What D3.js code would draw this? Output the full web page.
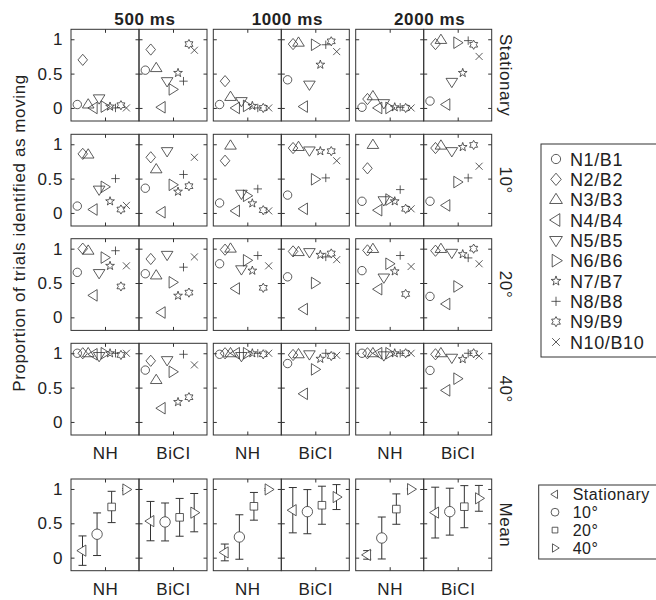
<!DOCTYPE html>
<html>
<head>
<meta charset="utf-8">
<script src="https://cdn.jsdelivr.net/npm/d3@7"></script>
<style>
body { margin: 0; background: #fff; }
svg text { font-family: "Liberation Sans", Arial, sans-serif; fill: #222; letter-spacing: 0.6px; }
</style>
</head>
<body>
<script>
'use strict'

const durations = ['500 ms', '1000 ms', '2000 ms']
const groups = ['NH', 'BiCI']
const conditions = ['Stationary', '10°', '20°', '40°']
const subjects = ['N1/B1', 'N2/B2', 'N3/B3', 'N4/B4', 'N5/B5', 'N6/B6', 'N7/B7', 'N8/B8', 'N9/B9', 'N10/B10']
const yTicks = [0, 0.5, 1]

// one row per condition (Stationary, 10, 20, 40), one value per subject
const nh500 = [
  [0.05, 0.70, 0.05, 0.00, 0.14, 0.02, 0.02, 0.00, 0.04, 0.00],
  [0.10, 0.86, 0.85, 0.05, 0.34, 0.38, 0.17, 0.50, 0.05, 0.11],
  [0.655, 1.00, 0.97, 0.32, 0.645, 0.87, 0.75, 0.97, 0.45, 0.75],
  [1.00, 1.00, 1.00, 0.985, 0.96, 1.00, 1.00, 1.00, 0.975, 1.00]
]
const bici500 = [
  [0.55, 0.85, 0.58, 0.01, 0.39, 0.27, 0.51, 0.39, 0.93, 0.84],
  [0.36, 0.81, 0.635, 0.01, 0.90, 0.41, 0.31, 0.56, 0.39, 0.81],
  [0.635, 0.85, 0.61, 0.07, 0.91, 0.51, 0.315, 0.73, 0.36, 0.88],
  [0.755, 0.89, 0.61, 0.20, 0.90, 0.73, 0.29, 0.985, 0.36, 0.83]
]
const nh1000 = [
  [0.05, 0.39, 0.16, 0.00, 0.10, 0.03, 0.03, 0.00, 0.00, 0.00],
  [0.145, 0.76, 0.98, 0.03, 0.28, 0.25, 0.14, 0.35, 0.04, 0.03],
  [0.78, 0.985, 1.00, 0.42, 0.70, 0.83, 0.68, 0.90, 0.43, 0.75],
  [0.985, 1.00, 1.00, 1.00, 0.96, 1.00, 1.00, 1.00, 0.985, 1.00]
]
const bici1000 = [
  [0.41, 0.93, 0.95, 0.02, 0.34, 0.92, 0.63, 0.92, 0.97, 0.82],
  [0.26, 0.945, 0.96, 0.06, 0.91, 0.49, 0.90, 0.51, 0.90, 0.76],
  [0.59, 0.96, 0.95, 0.12, 0.95, 0.50, 0.91, 0.88, 0.93, 0.84],
  [0.85, 0.975, 0.985, 0.41, 0.985, 0.765, 0.92, 1.00, 0.96, 0.97]
]
const nh2000 = [
  [0.01, 0.13, 0.17, 0.00, 0.07, 0.00, 0.01, 0.01, 0.00, 0.00],
  [0.17, 0.65, 0.99, 0.04, 0.185, 0.195, 0.17, 0.34, 0.06, 0.06],
  [0.68, 0.975, 0.995, 0.41, 0.58, 0.78, 0.67, 0.90, 0.34, 0.74],
  [1.00, 1.00, 1.00, 1.00, 0.97, 1.00, 1.00, 1.00, 1.00, 1.00]
]
const bici2000 = [
  [0.10, 0.93, 0.99, 0.05, 0.38, 0.95, 0.51, 0.98, 0.92, 0.75],
  [0.17, 0.945, 0.98, 0.11, 0.90, 0.45, 0.96, 0.51, 0.99, 0.68],
  [0.305, 0.97, 0.995, 0.195, 0.94, 0.45, 0.92, 0.865, 1.00, 0.78],
  [0.75, 0.985, 1.00, 0.46, 0.935, 0.63, 0.915, 1.00, 1.00, 0.96]
]

const table = [
  [nh500, bici500],
  [nh1000, bici1000],
  [nh2000, bici2000]
]

const m = {
  width: 656,
  height: 600,
  panelW: 68,
  panelH: 91.7,
  groupX: [71, 213.3, 355.7],
  rowTop: [29.3, 134.3, 238.7, 343.3],
  meanTop: 479,
  tick: 3.5
}
const ink = '#333'

// marker shapes, size = half extent in px
const shapes = {
  circle: { draw(c, r) { c.moveTo(r, 0); c.arc(0, 0, r, 0, 2 * Math.PI) } },
  diamond: { draw(c, r) { c.moveTo(0, -r); c.lineTo(r * 0.85, 0); c.lineTo(0, r); c.lineTo(-r * 0.85, 0); c.closePath() } },
  up: { draw(c, r) { c.moveTo(0, -r); c.lineTo(r, 0.6 * r); c.lineTo(-r, 0.6 * r); c.closePath() } },
  down: { draw(c, r) { c.moveTo(0, r); c.lineTo(r, -0.6 * r); c.lineTo(-r, -0.6 * r); c.closePath() } },
  left: { draw(c, r) { c.moveTo(-r, 0); c.lineTo(0.6 * r, -r); c.lineTo(0.6 * r, r); c.closePath() } },
  right: { draw(c, r) { c.moveTo(r, 0); c.lineTo(-0.6 * r, -r); c.lineTo(-0.6 * r, r); c.closePath() } },
  star5: { draw(c, r) { starPath(c, 5, r, r * 0.4) } },
  plus: { draw(c, r) { c.moveTo(-r, 0); c.lineTo(r, 0); c.moveTo(0, -r); c.lineTo(0, r) } },
  star6: { draw(c, r) { starPath(c, 6, r, r * 0.58) } },
  times: { draw(c, r) { c.moveTo(-r, -r); c.lineTo(r, r); c.moveTo(-r, r); c.lineTo(r, -r) } },
  square: { draw(c, r) { c.rect(-r, -r, 2 * r, 2 * r) } }
}

function starPath(c, n, ro, ri) {
  for (let k = 0; k < 2 * n; k++) {
    const a = -Math.PI / 2 + k * Math.PI / n
    const rr = k % 2 === 0 ? ro : ri
    if (k === 0) c.moveTo(rr * Math.cos(a), rr * Math.sin(a))
    else c.lineTo(rr * Math.cos(a), rr * Math.sin(a))
  }
  c.closePath()
}

const subjShape = ['circle', 'diamond', 'up', 'left', 'down', 'right', 'star5', 'plus', 'star6', 'times']
const subjSize = [4.2, 5.6, 5.8, 5.8, 5.8, 5.8, 4.6, 4.2, 4.6, 3.5]
const condShape = ['left', 'circle', 'square', 'right']
const condSize = [5.6, 5.2, 3.8, 5.6]

const sym = d3.symbol()
const symD = (type, r) => sym.type(shapes[type]).size(r)()

const svg = d3.select('body')
  .append('svg')
  .attr('width', m.width)
  .attr('height', m.height)

svg.append('rect').attr('width', m.width).attr('height', m.height).attr('fill', '#fff')

function yScaleFor(top) {
  return d3.scaleLinear()
    .domain([-0.19, 1.145])
    .range([top + m.panelH, top])
}

function drawFrame(g, x0, top, yS, withYLabels, withXLabel, label) {
  const x1 = x0 + m.panelW
  const xc = x0 + m.panelW / 2
  g.append('rect')
    .attr('x', x0).attr('y', top)
    .attr('width', m.panelW).attr('height', m.panelH)
    .attr('fill', 'none').attr('stroke', ink).attr('stroke-width', 1)

  const left = g.append('g').attr('transform', 'translate(' + x0 + ',0)')
    .call(d3.axisLeft(yS).tickValues(yTicks).tickSizeInner(-m.tick).tickSizeOuter(0)
      .tickPadding(8).tickFormat(withYLabels ? d3.format('') : ''))
  const right = g.append('g').attr('transform', 'translate(' + x1 + ',0)')
    .call(d3.axisRight(yS).tickValues(yTicks).tickSizeInner(-m.tick).tickSizeOuter(0).tickFormat(''))
  const xs = d3.scalePoint().domain([label]).range([xc, xc])
  const topAx = g.append('g').attr('transform', 'translate(0,' + top + ')')
    .call(d3.axisTop(xs).tickSizeInner(-m.tick).tickSizeOuter(0).tickFormat(''))
  const bot = g.append('g').attr('transform', 'translate(0,' + (top + m.panelH) + ')')
    .call(d3.axisBottom(xs).tickSizeInner(-m.tick).tickSizeOuter(0)
      .tickPadding(12).tickFormat(withXLabel ? null : ''))

  ;[left, right, topAx, bot].forEach(a => {
    a.select('.domain').remove()
    a.selectAll('line').attr('stroke', ink)
    a.selectAll('text').attr('fill', '#222').style('font-size', '17px')
      .style('font-family', '"Liberation Sans", Arial, sans-serif')
  })
}

// individual panels
durations.forEach((dur, di) => {
  const groupScale = d3.scaleBand().domain(groups).range([m.groupX[di], m.groupX[di] + 2 * m.panelW])
  groups.forEach((grp, gi) => {
    const x0 = groupScale(grp)
    const xS = d3.scalePoint().domain(subjects).range([x0 + 6.3, x0 + 55.4])
    conditions.forEach((cond, ci) => {
      const top = m.rowTop[ci]
      const yS = yScaleFor(top)
      const g = svg.append('g')
      drawFrame(g, x0, top, yS, di === 0 && gi === 0, ci === 3, grp)
      g.selectAll('path.mk')
        .data(table[di][gi][ci])
        .join('path')
        .attr('class', 'mk')
        .attr('transform', (d, i) => 'translate(' + xS(subjects[i]) + ',' + yS(d) + ')')
        .attr('d', (d, i) => symD(subjShape[i], subjSize[i]))
        .attr('fill', 'none')
        .attr('stroke', ink)
        .attr('stroke-width', 0.8)
    })

    // mean row
    const yM = yScaleFor(m.meanTop)
    const gm = svg.append('g')
    drawFrame(gm, x0, m.meanTop, yM, di === 0 && gi === 0, true, grp)
    const xC = d3.scalePoint().domain(conditions).range([x0 + 11.5, x0 + 55.2])
    const stats = conditions.map((c, ci) => {
      const vals = table[di][gi][ci]
      return { cond: c, mean: d3.mean(vals), sd: d3.deviation(vals), ci: ci }
    })
    const eb = gm.selectAll('g.eb').data(stats).join('g').attr('class', 'eb')
    eb.append('line')
      .attr('x1', d => xC(d.cond)).attr('x2', d => xC(d.cond))
      .attr('y1', d => yM(d.mean - d.sd)).attr('y2', d => yM(d.mean + d.sd))
    eb.append('line')
      .attr('x1', d => xC(d.cond) - 4).attr('x2', d => xC(d.cond) + 4)
      .attr('y1', d => yM(d.mean - d.sd)).attr('y2', d => yM(d.mean - d.sd))
    eb.append('line')
      .attr('x1', d => xC(d.cond) - 4).attr('x2', d => xC(d.cond) + 4)
      .attr('y1', d => yM(d.mean + d.sd)).attr('y2', d => yM(d.mean + d.sd))
    eb.selectAll('line').attr('stroke', ink).attr('stroke-width', 1)
    eb.append('path')
      .attr('transform', d => 'translate(' + xC(d.cond) + ',' + yM(d.mean) + ')')
      .attr('d', d => symD(condShape[d.ci], condSize[d.ci]))
      .attr('fill', '#fff')
      .attr('stroke', ink)
      .attr('stroke-width', 0.8)
  })

  svg.append('text')
    .attr('x', m.groupX[di] + m.panelW + 6)
    .attr('y', 25)
    .attr('text-anchor', 'middle')
    .style('font-size', '17px')
    .style('font-weight', 'bold')
    .text(dur)
})

// row labels on the right
const rowLabels = conditions.map((c, ci) => ({ text: c, y: m.rowTop[ci] + m.panelH / 2 }))
rowLabels.push({ text: 'Mean', y: m.meanTop + m.panelH / 2 })
svg.selectAll('text.row')
  .data(rowLabels)
  .join('text')
  .attr('class', 'row')
  .attr('transform', d => 'translate(499.5,' + d.y + ')rotate(90)')
  .attr('text-anchor', 'middle')
  .style('font-size', '17px')
  .text(d => d.text)

svg.append('text')
  .attr('transform', 'translate(25,233)rotate(-90)')
  .attr('text-anchor', 'middle')
  .style('font-size', '17px')
  .text('Proportion of trials identified as moving')

// subject legend
const leg1 = svg.append('g')
leg1.append('rect')
  .attr('x', 541).attr('y', 144).attr('width', 130).attr('height', 213)
  .attr('fill', '#fff').attr('stroke', ink).attr('stroke-width', 1)
const ly1 = d3.scalePoint().domain(subjects).range([159, 342])
leg1.selectAll('path')
  .data(subjects)
  .join('path')
  .attr('transform', d => 'translate(556,' + ly1(d) + ')')
  .attr('d', (d, i) => symD(subjShape[i], subjSize[i] * 1.1))
  .attr('fill', 'none').attr('stroke', ink).attr('stroke-width', 0.8)
leg1.selectAll('text')
  .data(subjects)
  .join('text')
  .attr('x', 570)
  .attr('y', d => ly1(d) + 6.5)
  .style('font-size', '18px')
  .text(d => d)

// condition legend
const leg2 = svg.append('g')
leg2.append('rect')
  .attr('x', 538.7).attr('y', 485).attr('width', 130).attr('height', 74)
  .attr('fill', '#fff').attr('stroke', ink).attr('stroke-width', 1)
const ly2 = d3.scalePoint().domain(conditions).range([494.3, 548])
leg2.selectAll('path')
  .data(conditions)
  .join('path')
  .attr('transform', d => 'translate(555,' + ly2(d) + ')')
  .attr('d', (d, i) => symD(condShape[i], condSize[i] * 0.75))
  .attr('fill', 'none').attr('stroke', ink).attr('stroke-width', 0.8)
leg2.selectAll('text')
  .data(conditions)
  .join('text')
  .attr('x', 572.7)
  .attr('y', d => ly2(d) + 5.5)
  .style('font-size', '16px')
  .style('letter-spacing', '0.5px')
  .text(d => d)
</script>
</body>
</html>
